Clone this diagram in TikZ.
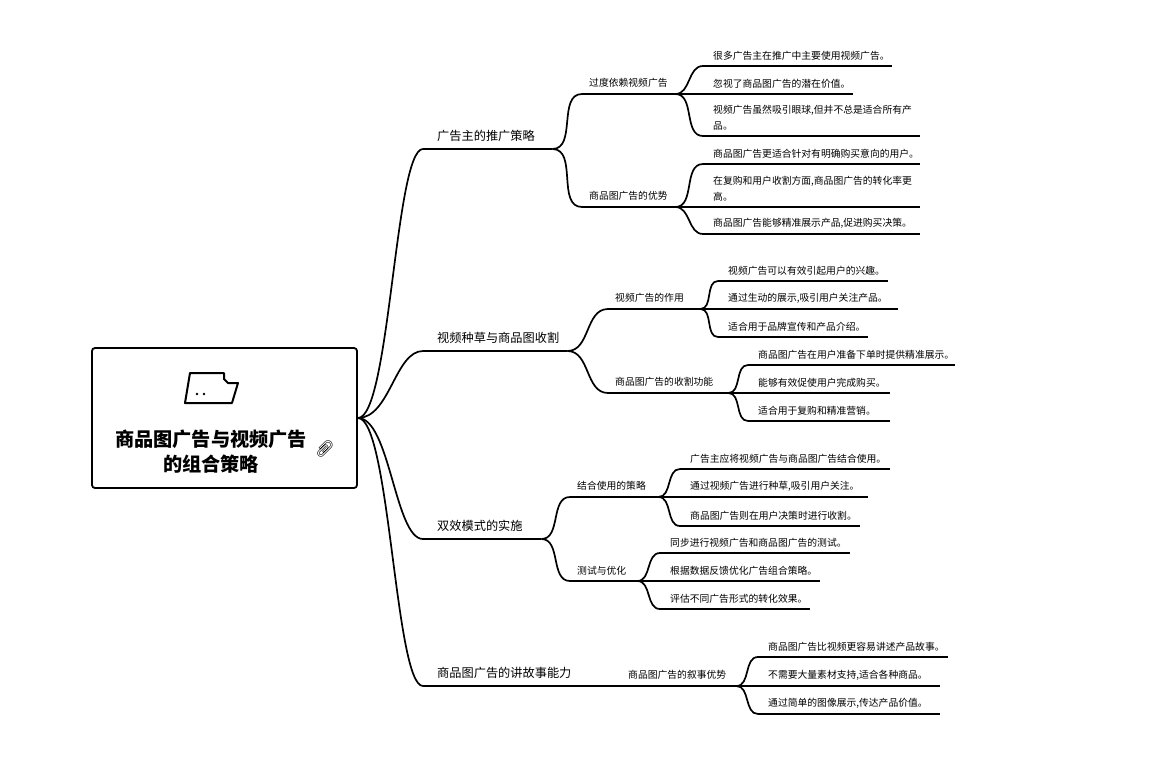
\documentclass[tikz,border=0pt]{standalone}
\usepackage{fontspec}
\setmainfont{Noto Sans CJK SC}
\newfontfamily\emojifont{Noto Emoji}
\usetikzlibrary{positioning}
\tikzset{
    rootbox/.style={rectangle,draw,rounded corners=3,line width=1.8,minimum width=265,minimum height=140,inner sep=0pt},
    roottext/.style={align=center,font=\fontsize{19.2}{25}\selectfont\bfseries,inner sep=0pt},
    item/.style={anchor=south west,inner xsep=0pt,align=left},
    branch/.style={item,inner ysep=7pt,text width=#1,font=\fontsize{12.2}{16}\selectfont,execute at begin node=\hspace*{14pt}},
    topic/.style={item,inner ysep=6pt,text width=#1,font=\fontsize{9.8}{14}\selectfont,execute at begin node=\hspace*{7pt}},
    leaf/.style={item,inner ysep=5.5pt,text width=#1,font=\fontsize{9.8}{16}\selectfont,execute at begin node=\hspace*{10pt}},
    mainlink/.style={line width=1.7,out=0,in=180,out distance=32,in distance=28},
    sublink/.style={line width=1.7,out=0,in=180},
    rule/.style={line width=1.7},
}
\begin{document}
\begin{tikzpicture}[x=1pt,y=-1pt]
	\useasboundingbox (0,0) rectangle (1160,760);

	\node[rootbox] (root) at (224.5,418) {};
	\node[roottext] (title) at (211,451.5) {商品图广告与视频广告\\的组合策略};
	\node[inner sep=0pt,rotate=90,font=\emojifont\fontsize{15}{15}\selectfont] (clip) at (325,449) {📎};
	\draw[line width=2,line join=round] (190,373) -- (224,373) -- (224,379) -- (228,383) -- (238,383) -- (232,403) -- (185,403) -- cycle;
	\fill (197,394) circle (1.3) (204,394) circle (1.3);

	\node[branch=129pt] (br1) at (423,149) {广告主的推广策略};
	\node[branch=144pt] (br2) at (423,351) {视频种草与商品图收割};
	\node[branch=118pt] (br3) at (423,539) {双效模式的实施};
	\node[branch=198pt] (br4) at (423,686) {商品图广告的讲故事能力};

	\node[topic=93pt] (sub11) at (582,94) {过度依赖视频广告};
	\node[topic=93pt] (sub12) at (582,207) {商品图广告的优势};
	\node[topic=92pt] (sub21) at (608,309) {视频广告的作用};
	\node[topic=120pt] (sub22) at (608,393) {商品图广告的收割功能};
	\node[topic=88pt] (sub31) at (570,497) {结合使用的策略};
	\node[topic=67pt] (sub32) at (570,581) {测试与优化};
	\node[topic=115pt] (sub41) at (621,686) {商品图广告的叙事优势};

	\node[leaf=189pt] (leaf111) at (703,66) {很多广告主在推广中主要使用视频广告。};
	\node[leaf=150pt] (leaf112) at (703,94) {忽视了商品图广告的潜在价值。};
	\node[leaf=217pt] (leaf113) at (703,136) {视频广告虽然吸引眼球,但并不总是适合所有产\\\hspace*{10pt}品。};
	\node[leaf=217pt] (leaf121) at (703,164) {商品图广告更适合针对有明确购买意向的用户。};
	\node[leaf=217pt] (leaf122) at (703,207) {在复购和用户收割方面,商品图广告的转化率更\\\hspace*{10pt}高。};
	\node[leaf=217pt] (leaf123) at (703,234) {商品图广告能够精准展示产品,促进购买决策。};

	\node[leaf=170pt] (leaf211) at (718,281) {视频广告可以有效引起用户的兴趣。};
	\node[leaf=180pt] (leaf212) at (718,309) {通过生动的展示,吸引用户关注产品。};
	\node[leaf=150pt] (leaf213) at (718,337) {适合用于品牌宣传和产品介绍。};
	\node[leaf=207pt] (leaf221) at (748,365) {商品图广告在用户准备下单时提供精准展示。};
	\node[leaf=142pt] (leaf222) at (748,393) {能够有效促使用户完成购买。};
	\node[leaf=142pt] (leaf223) at (748,421) {适合用于复购和精准营销。};

	\node[leaf=210pt] (leaf311) at (680,469) {广告主应将视频广告与商品图广告结合使用。};
	\node[leaf=188pt] (leaf312) at (680,497) {通过视频广告进行种草,吸引用户关注。};
	\node[leaf=180pt] (leaf313) at (680,526) {商品图广告则在用户决策时进行收割。};
	\node[leaf=190pt] (leaf321) at (660,553) {同步进行视频广告和商品图广告的测试。};
	\node[leaf=160pt] (leaf322) at (660,581) {根据数据反馈优化广告组合策略。};
	\node[leaf=150pt] (leaf323) at (660,609) {评估不同广告形式的转化效果。};

	\node[leaf=190pt] (leaf411) at (758,657) {商品图广告比视频更容易讲述产品故事。};
	\node[leaf=182pt] (leaf412) at (758,686) {不需要大量素材支持,适合各种商品。};
	\node[leaf=182pt] (leaf413) at (758,714) {通过简单的图像展示,传达产品价值。};

	\draw[mainlink] (root.east) to (br1.south west);
	\draw[mainlink] (root.east) to (br2.south west);
	\draw[mainlink] (root.east) to (br3.south west);
	\draw[mainlink] (root.east) to (br4.south west);

	\draw[rule] (br1.south west) -- (br1.south east);
	\draw[rule] (br2.south west) -- (br2.south east);
	\draw[rule] (br3.south west) -- (br3.south east);
	\draw[rule] (br4.south west) -- (br4.south east);
	\draw[rule] (sub11.south west) -- (sub11.south east);
	\draw[rule] (sub12.south west) -- (sub12.south east);
	\draw[rule] (sub21.south west) -- (sub21.south east);
	\draw[rule] (sub22.south west) -- (sub22.south east);
	\draw[rule] (sub31.south west) -- (sub31.south east);
	\draw[rule] (sub32.south west) -- (sub32.south east);
	\draw[rule] (sub41.south west) -- (sub41.south east);

	\draw[sublink] (br1.south east) to (sub11.south west);
	\draw[sublink] (br1.south east) to (sub12.south west);
	\draw[sublink] (br2.south east) to (sub21.south west);
	\draw[sublink] (br2.south east) to (sub22.south west);
	\draw[sublink] (br3.south east) to (sub31.south west);
	\draw[sublink] (br3.south east) to (sub32.south west);
	\draw[sublink] (br4.south east) to (sub41.south west);

	\draw[rule] (leaf111.south west) -- (leaf111.south east);
	\draw[rule] (leaf112.south west) -- (leaf112.south east);
	\draw[rule] (leaf113.south west) -- (leaf113.south east);
	\draw[rule] (leaf121.south west) -- (leaf121.south east);
	\draw[rule] (leaf122.south west) -- (leaf122.south east);
	\draw[rule] (leaf123.south west) -- (leaf123.south east);
	\draw[rule] (leaf211.south west) -- (leaf211.south east);
	\draw[rule] (leaf212.south west) -- (leaf212.south east);
	\draw[rule] (leaf213.south west) -- (leaf213.south east);
	\draw[rule] (leaf221.south west) -- (leaf221.south east);
	\draw[rule] (leaf222.south west) -- (leaf222.south east);
	\draw[rule] (leaf223.south west) -- (leaf223.south east);
	\draw[rule] (leaf311.south west) -- (leaf311.south east);
	\draw[rule] (leaf312.south west) -- (leaf312.south east);
	\draw[rule] (leaf313.south west) -- (leaf313.south east);
	\draw[rule] (leaf321.south west) -- (leaf321.south east);
	\draw[rule] (leaf322.south west) -- (leaf322.south east);
	\draw[rule] (leaf323.south west) -- (leaf323.south east);
	\draw[rule] (leaf411.south west) -- (leaf411.south east);
	\draw[rule] (leaf412.south west) -- (leaf412.south east);
	\draw[rule] (leaf413.south west) -- (leaf413.south east);

	\draw[sublink] (sub11.south east) to (leaf111.south west);
	\draw[sublink] (sub11.south east) to (leaf112.south west);
	\draw[sublink] (sub11.south east) to (leaf113.south west);
	\draw[sublink] (sub12.south east) to (leaf121.south west);
	\draw[sublink] (sub12.south east) to (leaf122.south west);
	\draw[sublink] (sub12.south east) to (leaf123.south west);
	\draw[sublink] (sub21.south east) to (leaf211.south west);
	\draw[sublink] (sub21.south east) to (leaf212.south west);
	\draw[sublink] (sub21.south east) to (leaf213.south west);
	\draw[sublink] (sub22.south east) to (leaf221.south west);
	\draw[sublink] (sub22.south east) to (leaf222.south west);
	\draw[sublink] (sub22.south east) to (leaf223.south west);
	\draw[sublink] (sub31.south east) to (leaf311.south west);
	\draw[sublink] (sub31.south east) to (leaf312.south west);
	\draw[sublink] (sub31.south east) to (leaf313.south west);
	\draw[sublink] (sub32.south east) to (leaf321.south west);
	\draw[sublink] (sub32.south east) to (leaf322.south west);
	\draw[sublink] (sub32.south east) to (leaf323.south west);
	\draw[sublink] (sub41.south east) to (leaf411.south west);
	\draw[sublink] (sub41.south east) to (leaf412.south west);
	\draw[sublink] (sub41.south east) to (leaf413.south west);
\end{tikzpicture}
\end{document}
